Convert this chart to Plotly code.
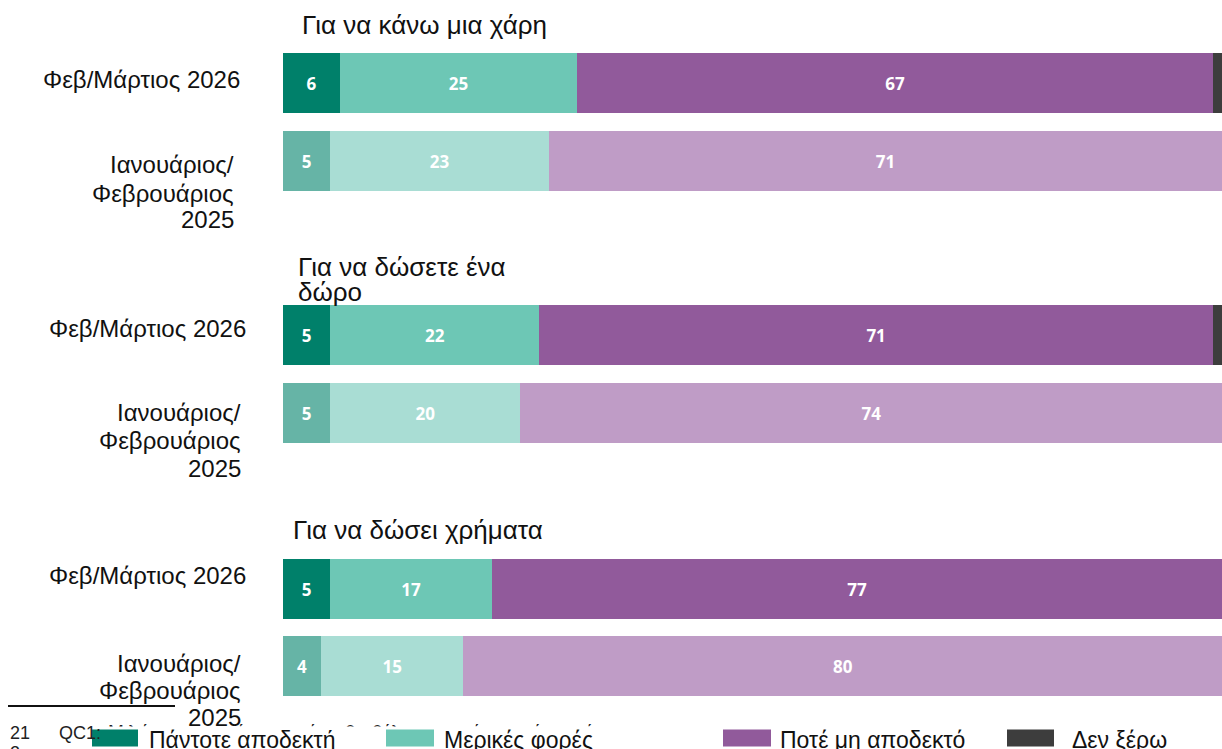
import plotly.graph_objects as go

W, H = 1222, 749

# ---------------- data ----------------
groups = ["Για να κάνω μια χάρη", "Για να δώσετε ένα<br>δώρο", "Για να δώσει χρήματα"]
periods = ["Φεβ/Μάρτιος 2026", "Ιανουάριος/<br>Φεβρουάριος<br>2025"]
categories = ["Πάντοτε αποδεκτή", "Μερικές φορές", "Ποτέ μη αποδεκτό", "Δεν ξέρω"]

# values[group] -> [2026, 2025]
always_acc = [[6, 5], [5, 5], [5, 4]]
sometimes = [[25, 23], [22, 20], [17, 15]]
never_acc = [[67, 71], [71, 74], [77, 80]]
dont_know = [[2, 1], [2, 1], [1, 1]]
series = [always_acc, sometimes, never_acc, dont_know]

footnote_num = "21"
footnote_q = "QC1:"
footnote_text = "Μιλώντας γενικότερα, πόσο θα θέλατε να πάρετε κάτι από τη"
footnote_next = "2"

# ---------------- style ----------------
dark_cols = ["#00806A", "#6DC7B5", "#915A9B", "#3D3D3D"]
light_cols = ["#66B4A6", "#A9DDD4", "#BF9CC6", "#9E9E9E"]


def px(x):
    return x / W


def py(y):
    return 1 - y / H


y_domains = [(44, 200), (296, 452), (550.5, 704.5)]
yaxis_ids = ["y", "y2", "y3"]

fig = go.Figure()

for g in range(3):
    for c, name in enumerate(categories):
        vals = series[c][g]
        show_text = c < 3
        fig.add_trace(go.Bar(
            name=name,
            orientation="h",
            x=vals,
            y=periods,
            xaxis="x",
            yaxis=yaxis_ids[g],
            marker=dict(color=[dark_cols[c], light_cols[c]], line=dict(width=0)),
            text=[str(v) for v in vals] if show_text else None,
            textposition="inside" if show_text else "none",
            insidetextanchor="middle",
            textangle=0,
            constraintext="none",
            textfont=dict(family="Open Sans", size=17, color="white", weight="bold"),
            showlegend=False,
            hoverinfo="skip",
        ))

# footnote sentence (partially hidden behind legend strip)
fig.add_trace(go.Scatter(
    x=[108], y=[733], mode="text", text=[footnote_text],
    textposition="middle right",
    textfont=dict(family="Liberation Sans", size=19, color="#222"),
    xaxis="x2", yaxis="y4", showlegend=False, hoverinfo="skip", cliponaxis=False,
))

layout = dict(
    width=W, height=H,
    margin=dict(l=0, r=0, t=0, b=0),
    paper_bgcolor="white", plot_bgcolor="rgba(0,0,0,0)",
    barmode="stack", bargap=0.22,
    showlegend=False,
    xaxis=dict(domain=[px(283), 1], range=[0, 98.95], visible=False, fixedrange=True, anchor="y3"),
    xaxis2=dict(domain=[0, 1], range=[0, W], visible=False, fixedrange=True, anchor="y4"),
    yaxis4=dict(domain=[0, 1], range=[H, 0], visible=False, fixedrange=True, anchor="x2"),
)
for g, (top, bot) in enumerate(y_domains):
    key = "yaxis" if g == 0 else f"yaxis{g + 1}"
    layout[key] = dict(domain=[py(bot), py(top)], type="category",
                       categoryarray=periods, range=[1.5, -0.5],
                       visible=False, fixedrange=True, anchor="x")
fig.update_layout(**layout)

ann = []
label_font = dict(family="Liberation Sans, Arial", size=24, color="#111")
title_font = dict(family="Liberation Sans, Arial", size=26, color="#111")


def add_lines(text, x, ys, anchor):
    for line, y in zip(text.split("<br>"), ys):
        ann.append(dict(text=line, x=px(x), y=py(y), xref="paper", yref="paper",
                        xanchor=anchor, yanchor="middle", showarrow=False,
                        font=title_font if anchor == "left" else label_font))


# group titles
add_lines(groups[0], 300, [25], "left")
add_lines(groups[1], 296, [267, 292], "left")
add_lines(groups[2], 291, [530], "left")

# period labels
lab26 = [(242, [80]), (248, [329]), (248, [575])]
lab25 = [(236, [165, 193, 220]), (243, [412, 441, 468]), (243, [663, 690, 717])]
for g in range(3):
    add_lines(periods[0], lab26[g][0], lab26[g][1], "right")
    add_lines(periods[1], lab25[g][0], lab25[g][1], "right")

# footnote
foot_font = dict(family="Liberation Sans, Arial", size=18, color="#222")
ann.append(dict(text=footnote_num, x=px(8), y=py(733), xref="paper", yref="paper",
                xanchor="left", yanchor="middle", showarrow=False, font=foot_font))
ann.append(dict(text=footnote_q, x=px(57), y=py(733), xref="paper", yref="paper",
                xanchor="left", yanchor="middle", showarrow=False, font=foot_font))
ann.append(dict(text=footnote_next, x=px(8), y=py(753), xref="paper", yref="paper",
                xanchor="left", yanchor="middle", showarrow=False, font=foot_font))

shapes = [
    dict(type="line", xref="paper", yref="paper", x0=px(8), x1=px(175), y0=py(706), y1=py(706),
         line=dict(color="#111", width=2), layer="above"),
    dict(type="rect", xref="paper", yref="paper", x0=px(96), x1=1, y0=0, y1=py(726.5),
         fillcolor="white", line=dict(width=0), layer="above"),
]

# legend (manual)
leg_box = [(92, 138), (386, 434), (723, 771), (1007, 1054)]
leg_text_x = [147, 442, 778, 1070]
leg_font = dict(family="Liberation Sans, Arial", size=23, color="#111")
for i, name in enumerate(categories):
    x0, x1 = leg_box[i]
    shapes.append(dict(type="rect", xref="paper", yref="paper", x0=px(x0), x1=px(x1),
                       y0=py(746.5), y1=py(729.5), fillcolor=dark_cols[i],
                       line=dict(width=0), layer="above"))
    ann.append(dict(text=name, x=px(leg_text_x[i]), y=py(740), xref="paper", yref="paper",
                    xanchor="left", yanchor="middle", showarrow=False, font=leg_font))

fig.update_layout(annotations=ann, shapes=shapes)

fig.write_html("out.html", config={"displayModeBar": False},
               post_script="document.body.style.margin='0';")
